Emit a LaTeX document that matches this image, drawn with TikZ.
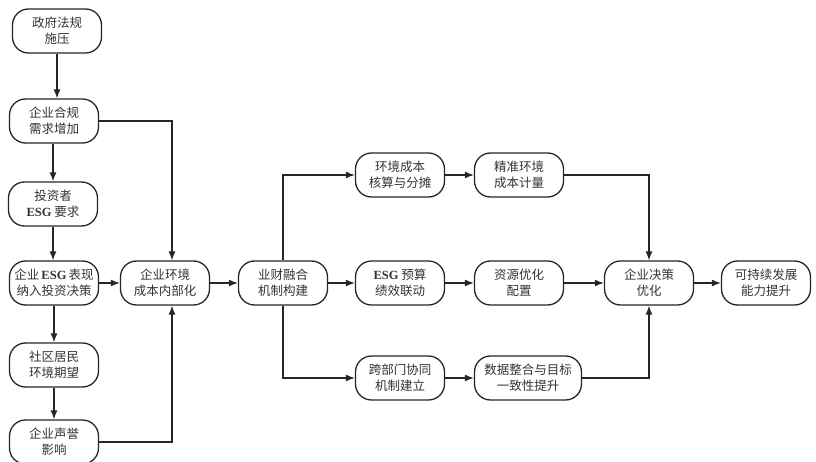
\documentclass[tikz,border=0pt]{standalone}
\usepackage{fontspec}
\setmainfont{Liberation Serif}
\newfontfamily\cjk{Noto Sans CJK SC}
\usetikzlibrary{arrows.meta}
\newcommand{\esg}{{\rmfamily\bfseries ESG}}
\begin{document}
\begin{tikzpicture}[x=1pt,y=-1pt,
  box/.style={draw=black!85, line width=1.3pt, rounded corners=16pt,
    minimum width=89pt, minimum height=44pt, inner sep=2pt, align=center,
    font=\cjk\fontsize{12.5}{16}\selectfont, text=black!80},
  conn/.style={draw=black!85, line width=1.2pt, -{Latex[length=9pt,width=7pt]}},
  plain/.style={draw=black!85, line width=1.2pt}]
\useasboundingbox (0,0) rectangle (816,462);
% left column
\node[box] (gov) at (57,31) {政府法规\\施压};
\node[box] (comp) at (54,121) {企业合规\\需求增加};
\node[box] (inv) at (53,204) {投资者\\\esg{} 要求};
\node[box] (esgp) at (54,283) {企业\,\esg\,表现\\纳入投资决策};
\node[box] (comm) at (54,365) {社区居民\\环境期望};
\node[box] (rep) at (54,442) {企业声誉\\影响};
% middle
\node[box] (intern) at (165,283) {企业环境\\成本内部化};
\node[box] (fin) at (283,283) {业财融合\\机制构建};
\node[box] (acc) at (400,175) {环境成本\\核算与分摊};
\node[box] (prec) at (519,175) {精准环境\\成本计量};
\node[box] (bud) at (400,283) {\esg{} 预算\\绩效联动};
\node[box] (res) at (519,283) {资源优化\\配置};
\node[box] (cross) at (400,378) {跨部门协同\\机制建立};
\node[box, minimum width=107pt] (data) at (528,378) {数据整合与目标\\一致性提升};
\node[box] (dec) at (649,283) {企业决策\\优化};
\node[box] (sus) at (766,283) {可持续发展\\能力提升};
% coordinates
\coordinate (c1) at (172,121);
\coordinate (c2) at (172,442);
\coordinate (b1) at (283,175);
\coordinate (b2) at (283,378);
\coordinate (d1) at (649,175);
\coordinate (d2) at (649,378);
% connectors
\draw[conn] (gov) -- (gov.south |- comp.north);
\draw[conn] (comp.south -| inv.north) -- (inv);
\draw[conn] (inv) -- (esgp.north -| inv);
\draw[conn] (esgp) -- (comm);
\draw[conn] (comm) -- (rep);
\draw[conn] (comp.east) -- (c1) -- (c1 |- intern.north);
\draw[conn] (rep.east) -- (c2) -- (c2 |- intern.south);
\draw[conn] (esgp) -- (intern);
\draw[conn] (intern) -- (fin);
\draw[conn] (fin) -- (bud);
\draw[conn] (fin.north -| b1) -- (b1) -- (acc.west);
\draw[conn] (fin.south -| b2) -- (b2) -- (cross.west);
\draw[conn] (acc) -- (prec);
\draw[conn] (bud) -- (res);
\draw[conn] (cross) -- (cross.east -| data.west);
\draw[conn] (prec.east) -- (d1) -- (dec.north);
\draw[conn] (data.east) -- (d2) -- (dec.south);
\draw[conn] (res) -- (dec);
\draw[conn] (dec) -- (sus);
\end{tikzpicture}
\end{document}
